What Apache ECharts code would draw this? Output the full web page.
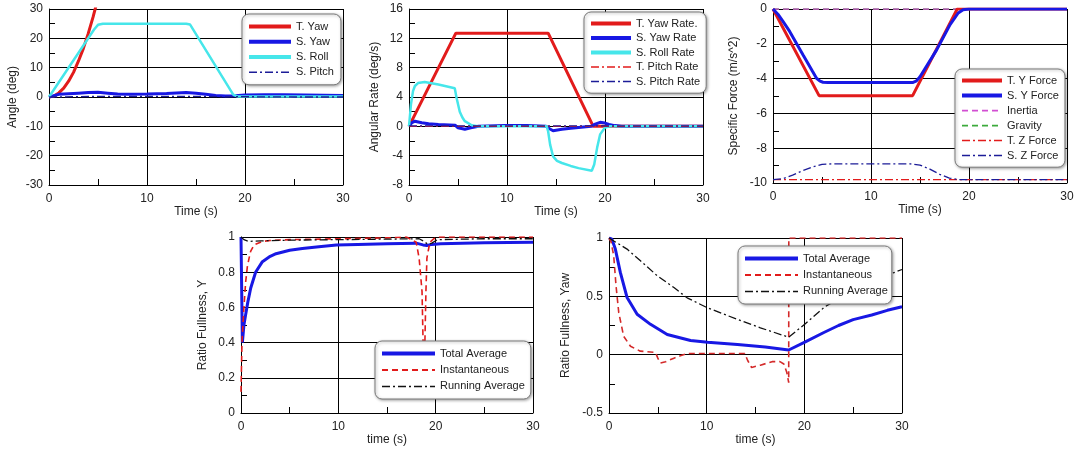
<!DOCTYPE html>
<html><head><meta charset="utf-8">
<script src="https://cdn.jsdelivr.net/npm/echarts@6/dist/echarts.min.js"></script>
<style>html,body{margin:0;padding:0;background:#fff}#c{width:1079px;height:452px}</style>
</head><body><div id="c"></div>
<script>
// ---------- Panel 1: Angle ----------
const p1_tYaw_t = [0,0.5,1,1.5,2,2.5,3,3.5,4,4.5,5];
const p1_tYaw_v = [0,0.3,1.4,3,5.4,8.4,12.2,16.5,21.6,27.3,33.7];
const p1_sYaw_t = [0,1,2,3,4,5,6,7,8,10,12,14,15,16,17,18,19,20,22,24,26,28,30];
const p1_sYaw_v = [0,0.9,1.1,1.3,1.5,1.6,1.3,1.0,0.9,1.0,1.2,1.5,1.3,0.9,0.5,0.3,0.4,0.7,0.8,0.8,0.7,0.6,0.5];
const p1_sRoll_t = [0,4.6,5.0,5.5,14.0,14.4,18.8,19.2,20,30];
const p1_sRoll_v = [0,23,24.6,25,25,24.7,0.8,0.2,0.2,0.2];
const p1_sPitch_t = [0,5,10,15,20,25,30];
const p1_sPitch_v = [0,0.2,0.2,0.2,0.1,0,0];

// ---------- Panel 2: Angular rate ----------
const p2_tYawR_t = [0,4.78,14.2,18.8,30];
const p2_tYawR_v = [0,12.7,12.7,0,0];
const p2_sYawR_t = [0,0.3,0.6,1.3,2,3,4.7,5.0,5.2,5.7,6.3,7.1,9.8,12,14.0,14.3,14.7,15.6,16.5,17.3,18.6,19.0,19.5,20.0,20.4,21,21.7,25,30];
const p2_sYawR_v = [0,0.5,0.7,0.5,0.35,0.25,0.15,-0.2,-0.45,-0.4,-0.2,0,0.1,0.1,0,-0.3,-0.6,-0.4,-0.25,-0.15,0,0.3,0.55,0.45,0.25,0.1,0,0,0];
const p2_sRollR_t = [0,0.2,0.41,0.6,0.92,1.6,3,4.67,4.85,5.18,5.45,5.7,6.4,7,14.05,14.2,14.4,14.7,15.1,15.6,16.5,17.3,18.65,18.9,19.2,19.5,20,20.5,30];
const p2_sRollR_v = [0,3.0,4.8,5.5,5.9,6.05,5.7,5.2,3.9,2.0,1.2,0.7,0.15,0,0,-0.7,-2.5,-4.1,-4.7,-5.0,-5.4,-5.7,-6.05,-5.2,-2.9,-1.1,-0.15,0,0];
const p2_tPitchR_t = [0,30];
const p2_tPitchR_v = [0,0];
const p2_sPitchR_t = [0,30];
const p2_sPitchR_v = [0.05,0.05];

// ---------- Panel 3: Specific force ----------
const p3_tY_t = [0,4.7,14.25,18.8,30];
const p3_tY_v = [0,-4.98,-4.98,0,0];
const p3_sY_t = [0,0.5,1,1.7,3.07,4.0,4.44,4.8,5.1,5.6,14.3,14.6,15.0,16.7,18.07,18.9,19.4,20,30];
const p3_sY_v = [0,-0.3,-0.7,-1.29,-2.64,-3.55,-3.98,-4.15,-4.21,-4.22,-4.22,-4.15,-3.89,-2.35,-0.9,-0.23,-0.04,0,0];
const p3_inertia_t = [0,30];
const p3_inertia_v = [0,0];
const p3_gravity_t = [0,30];
const p3_gravity_v = [0,0];
const p3_tZ_t = [0,30];
const p3_tZ_v = [-9.81,-9.81];
const p3_sZ_t = [0,1,2,3,4,5,6,14,15,16,17,18,19,30];
const p3_sZ_v = [-9.81,-9.75,-9.55,-9.3,-9.08,-8.93,-8.9,-8.9,-8.97,-9.2,-9.5,-9.72,-9.81,-9.81];

// ---------- Panel 4: Ratio fullness Y ----------
const p4_tot_t = [0,0.14,0.3,0.48,0.7,1.0,1.5,2.2,3,3.6,5,6.3,8,9.8,12,15,18,18.7,19.1,19.6,20.5,25,30];
const p4_tot_v = [1,0.4,0.5,0.56,0.63,0.71,0.8,0.86,0.89,0.905,0.925,0.935,0.945,0.955,0.958,0.962,0.965,0.955,0.952,0.958,0.962,0.967,0.97];
const p4_inst_t = [0,0.1,0.3,0.48,0.65,0.83,1.0,1.34,2.2,3,5,10,15,17,18.0,18.3,18.6,18.7,18.8,18.9,19.0,19.1,19.4,19.8,20.3,25,30];
const p4_inst_v = [0.12,0.4,0.6,0.745,0.83,0.88,0.92,0.955,0.975,0.98,0.985,0.99,0.995,1.0,0.97,0.88,0.69,0.42,0.3,0.42,0.69,0.88,0.97,0.99,1.0,1.0,1.0];
const p4_run_t = [0,0.3,0.8,2,5,10,15,18.3,18.8,19.2,19.6,20.2,25,30];
const p4_run_v = [1,0.985,0.975,0.978,0.982,0.985,0.988,0.99,0.975,0.958,0.965,0.985,0.99,0.99];

// ---------- Panel 5: Ratio fullness Yaw ----------
const p5_tot_t = [0,0.3,0.65,1.16,1.85,2.88,4.25,5.96,8.35,10.1,13.15,16,18.4,20.1,22,23.5,25,26.9,28.5,30];
const p5_tot_v = [1,0.99,0.905,0.705,0.49,0.346,0.26,0.173,0.121,0.107,0.087,0.065,0.04,0.11,0.19,0.25,0.3,0.34,0.38,0.41];
const p5_inst_t = [0,0.2,0.48,0.72,1.0,1.5,2.2,3.2,4.76,5.0,5.27,5.8,6.65,7.3,8,10,13.9,14.2,14.6,15.5,16.7,17.5,17.9,18.2,18.4,18.41,30];
const p5_inst_v = [1,0.97,0.85,0.59,0.36,0.158,0.072,0.03,0.02,-0.03,-0.072,-0.06,-0.03,-0.01,0.01,0.01,0.01,-0.05,-0.11,-0.09,-0.06,-0.06,-0.08,-0.15,-0.24,1,1];
const p5_run_t = [0,1.85,3.22,4.93,6.65,8.0,10.05,13.15,15.5,18.4,20.1,22.1,25,27.5,30];
const p5_run_v = [1,0.905,0.805,0.677,0.575,0.487,0.403,0.302,0.23,0.15,0.265,0.41,0.55,0.65,0.73];

// ---------- tick settings (major with labels + minor tick step) ----------
const xTicks = {min:0, max:30, interval:10, minor:5};
const p1_yTicks = {min:-30, max:30, interval:10, minor:5};
const p2_yTicks = {min:-8, max:16, interval:4, minor:2};
const p3_yTicks = {min:-10, max:0, interval:2, minor:1};
const p4_yTicks = {min:0, max:1, interval:0.2, minor:0.1};
const p5_yTicks = {min:-0.5, max:1, interval:0.5, minor:0.25};

const RED='#e21b1b', BLUE='#1818e4', CYAN='#46e6ea', NAVY='#1c1c98', MAG='#d24fd2', GRN='#3caa3c', BLK='#111';
const DASHDOT=[8,3,2,3], DASH=[6,4];
const FONT='Liberation Sans, Arial, sans-serif';

function pairs(t,v){return t.map((x,i)=>[x,v[i]]);}
function ser(name, gi, t, v, color, width, type, z){
  return {name, type:'line', xAxisIndex:gi, yAxisIndex:gi, data:pairs(t,v), symbol:'none',
    showSymbol:false, clip:true, z:z||2, animation:false,
    lineStyle:{color, width, type:type||'solid'}, itemStyle:{color}};
}
function mainAx(gi,name,tk,gap,isX){
  return {type:'value', gridIndex:gi, position:isX?'bottom':'left', min:tk.min, max:tk.max, interval:tk.interval,
    name, nameLocation:'middle', nameGap:gap, nameTextStyle:{fontSize:12,color:'#222',fontFamily:FONT},
    axisLine:{show:true,onZero:false,lineStyle:{color:'#000',width:1}},
    axisTick:{show:false},
    splitLine:{show:true,lineStyle:{color:'#000',width:1}},
    axisLabel:{fontSize:12,color:'#222',fontFamily:FONT,margin:isX?8:6}};
}
function tickAx(gi,tk,isX){
  return {type:'value', gridIndex:gi, position:isX?'bottom':'left', min:tk.min, max:tk.max, interval:tk.minor,
    axisLine:{show:false,onZero:false}, axisTick:{show:true,inside:true,length:6,lineStyle:{color:'#000',width:1}},
    splitLine:{show:false}, axisLabel:{show:false}};
}
function leg(items,left,top,padding,itemWidth,itemGap){
  return {data:items.map(([n,w])=>({name:n, lineStyle:{width:w}})), orient:'vertical', left, top, padding, itemWidth, itemHeight:14, itemGap,
    backgroundColor:'#fff', borderColor:'#7a7a7a', borderWidth:1, borderRadius:7,
    shadowBlur:3, shadowColor:'rgba(0,0,0,0.35)', shadowOffsetX:1, shadowOffsetY:1,
    itemStyle:{color:'rgba(0,0,0,0)', borderColor:'rgba(0,0,0,0)', borderWidth:0, opacity:0},
    selectedMode:false, textStyle:{fontSize:11,color:'#222',fontFamily:FONT}, z:10};
}
const p1_legend = [['T. Yaw',4],['S. Yaw',4],['S. Roll',4],['S. Pitch',1.5]];
const p2_legend = [['T. Yaw Rate.',4],['S. Yaw Rate',4],['S. Roll Rate',4],['T. Pitch Rate',1.5],['S. Pitch Rate',1.5]];
const p3_legend = [['T. Y Force',4],['S. Y Force',4],['Inertia',1.8],['Gravity',1.8],['T. Z Force',1.5],['S. Z Force',1.5]];
const p45_legend = [['Total Average',4],['Instantaneous',1.8],['Running Average',1.5]];

const yTicksAll = [p1_yTicks,p2_yTicks,p3_yTicks,p4_yTicks,p5_yTicks];
const xNames = ['Time (s)','Time (s)','Time (s)','time (s)','time (s)'];
const yNames = ['Angle (deg)','Angular Rate (deg/s)','Specific Force (m/s^2)','Ratio Fullness, Y','Ratio Fullness, Yaw'];
const yGaps = [30,28,33,32,37];

const xAxes = [], yAxes = [];
for (let i=0;i<5;i++){ xAxes.push(mainAx(i,xNames[i],xTicks,20,true)); yAxes.push(mainAx(i,yNames[i],yTicksAll[i],yGaps[i],false)); }
for (let i=0;i<5;i++){ xAxes.push(tickAx(i,xTicks,true)); yAxes.push(tickAx(i,yTicksAll[i],false)); }

const option = {
  backgroundColor:'#fff', animation:false,
  textStyle:{fontFamily:FONT},
  grid:[
    {left:49, top:9, width:294, height:176},
    {left:409, top:9, width:294, height:176},
    {left:773, top:9, width:294, height:174},
    {left:241, top:237, width:292, height:176},
    {left:609, top:238, width:293, height:175}
  ],
  xAxis:xAxes,
  yAxis:yAxes,
  legend:[
    leg(p1_legend,242,14,[7,7,7,5],42,4.0),
    leg(p2_legend,584,12,[6,6,6,5],40,3.3),
    leg(p3_legend,955,69,[6,6,6,5],40,3.8),
    leg(p45_legend,375,341,[7,6,7,5],53,5.2),
    leg(p45_legend,738,246,[7,4,7,5],53,5.2)
  ],
  series:[
    ser('T. Yaw',0,p1_tYaw_t,p1_tYaw_v,RED,3),
    ser('S. Yaw',0,p1_sYaw_t,p1_sYaw_v,BLUE,3),
    ser('S. Roll',0,p1_sRoll_t,p1_sRoll_v,CYAN,2.5),
    ser('S. Pitch',0,p1_sPitch_t,p1_sPitch_v,NAVY,1.3,DASHDOT),

    ser('T. Yaw Rate.',1,p2_tYawR_t,p2_tYawR_v,RED,3),
    ser('S. Yaw Rate',1,p2_sYawR_t,p2_sYawR_v,BLUE,3),
    ser('S. Roll Rate',1,p2_sRollR_t,p2_sRollR_v,CYAN,2.5),
    ser('T. Pitch Rate',1,p2_tPitchR_t,p2_tPitchR_v,RED,1.3,DASHDOT),
    ser('S. Pitch Rate',1,p2_sPitchR_t,p2_sPitchR_v,NAVY,1.3,DASHDOT),

    ser('Gravity',2,p3_gravity_t,p3_gravity_v,GRN,1.5,DASH,1),
    ser('Inertia',2,p3_inertia_t,p3_inertia_v,MAG,1.5,DASH),
    ser('T. Y Force',2,p3_tY_t,p3_tY_v,RED,3),
    ser('S. Y Force',2,p3_sY_t,p3_sY_v,BLUE,3),
    ser('T. Z Force',2,p3_tZ_t,p3_tZ_v,RED,1.3,DASHDOT),
    ser('S. Z Force',2,p3_sZ_t,p3_sZ_v,NAVY,1.3,DASHDOT),

    ser('Total Average',3,p4_tot_t,p4_tot_v,BLUE,3),
    ser('Instantaneous',3,p4_inst_t,p4_inst_v,RED,1.6,DASH),
    ser('Running Average',3,p4_run_t,p4_run_v,BLK,1.3,DASHDOT),

    ser('Total Average',4,p5_tot_t,p5_tot_v,BLUE,3),
    ser('Instantaneous',4,p5_inst_t,p5_inst_v,'#d42a2a',1.6,DASH),
    ser('Running Average',4,p5_run_t,p5_run_v,BLK,1.3,DASHDOT)
  ]
};
const chart = echarts.init(document.getElementById('c'), null, {renderer:'canvas'});
chart.setOption(option);
</script></body></html>
